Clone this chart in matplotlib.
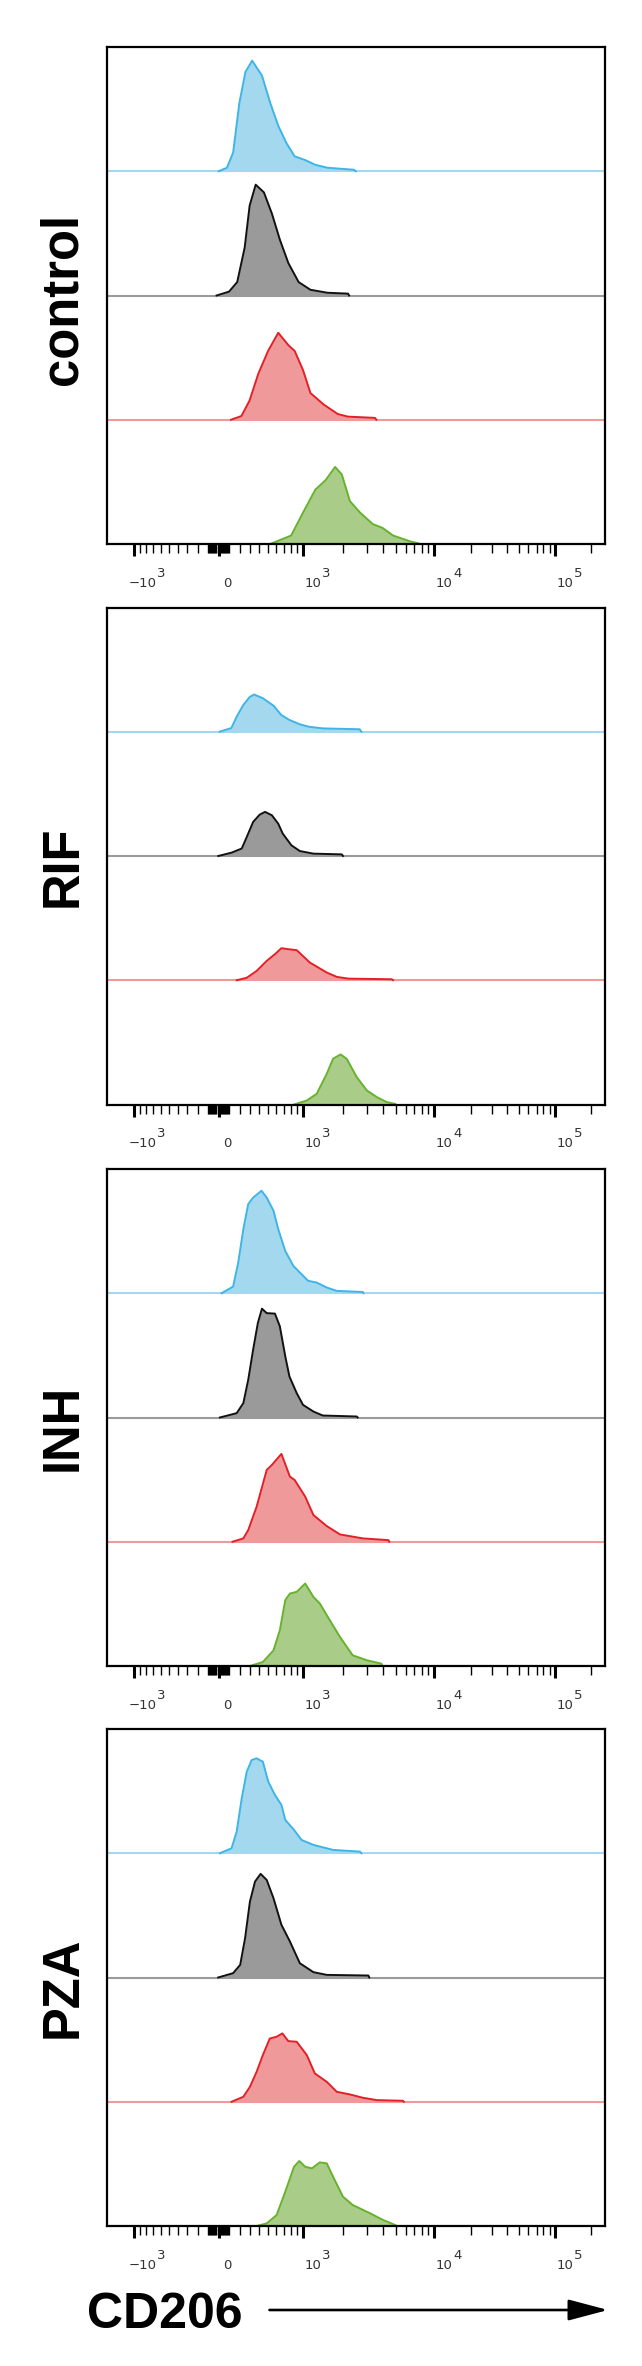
import numpy as np
import matplotlib
matplotlib.use('Agg')
import matplotlib.pyplot as plt
from matplotlib.patches import FancyArrowPatch
from matplotlib.transforms import blended_transform_factory

# CD206 fluorescence histograms, 4 lanes per panel.
# x = fluorescence intensity, h = height in % of one lane
CTRL_BLUE_X = [1, 78, 137, 197, 257, 325, 430, 525, 625, 735, 860, 1040, 1240, 1530, 2400, 2480]
CTRL_BLUE_H = [0, 2.8, 15, 55, 80, 89, 77, 55, 36.6, 22.8, 12, 9, 5.2, 2.8, 1.2, 0]
CTRL_GRAY_X = [-19, 98, 176, 249, 299, 362, 452, 545, 648, 765, 925, 1140, 1530, 2170, 2210]
CTRL_GRAY_H = [0, 3.1, 10.8, 38.5, 72.3, 89.2, 83, 66, 44.6, 26, 10.8, 4.6, 2.2, 1.5, 0]
CTRL_RED_X = [117, 217, 298, 390, 500, 625, 765, 860, 1000, 1140, 1430, 1820, 2170, 3460, 3540]
CTRL_RED_H = [0, 3, 15.4, 37, 55.4, 70, 60, 55.4, 40, 21.5, 12.3, 4.6, 2.5, 1.5, 0]
CTRL_GREEN_X = [525, 805, 1000, 1240, 1480, 1740, 1950, 2240, 2670, 3330, 3940, 4770, 6440, 7500]
CTRL_GREEN_H = [0, 6.8, 25.2, 43.7, 51.4, 62, 56, 34.5, 25.2, 16, 13, 6.8, 2.2, 0.6]

RIF_BLUE_X = [10, 120, 170, 235, 300, 345, 440, 565, 665, 780, 945, 1115, 1410, 2650, 2730]
RIF_BLUE_H = [0, 3, 12, 21.5, 28, 30, 27, 21, 13.5, 9.5, 6, 4, 2.7, 2, 0]
RIF_GRAY_X = [-3, 122, 220, 270, 335, 405, 465, 545, 625, 685, 810, 945, 1200, 1950, 1990]
RIF_GRAY_H = [0, 2.7, 6, 15.3, 27.4, 33.3, 35.5, 32.8, 26, 18, 8.6, 4, 1.9, 1.3, 0]
RIF_RED_X = [171, 270, 372, 484, 583, 667, 763, 893, 1130, 1510, 1790, 2180, 4650, 4760]
RIF_RED_H = [0, 2, 7.5, 15.6, 21, 25.8, 25, 24.2, 14.2, 6.2, 2.7, 1.3, 0.8, 0]
RIF_GREEN_X = [850, 1070, 1270, 1510, 1680, 1910, 2120, 2520, 3000, 3580, 4260, 4950]
RIF_GREEN_H = [0, 3.2, 8.6, 24.7, 36.8, 40.3, 36.8, 22, 11.3, 5.9, 1.9, 0.5]

INH_BLUE_X = [28, 137, 186, 236, 285, 335, 425, 484, 565, 625, 720, 840, 945, 1095, 1270, 1510, 1790, 2800, 2830]
INH_BLUE_H = [0, 5.4, 24.7, 51.6, 71.8, 77, 82.5, 77, 66.4, 51.6, 34, 22, 16.7, 10, 8.6, 4.6, 1.9, 1, 0]
INH_GRAY_X = [12, 171, 236, 285, 335, 385, 430, 484, 583, 646, 720, 780, 893, 1000, 1200, 1410, 2520, 2560]
INH_GRAY_H = [0, 3.5, 11.6, 30.4, 54.6, 76, 87.6, 84, 83.6, 73.4, 49.2, 33, 19.6, 10.2, 4.8, 1.6, 0.8, 0]
INH_RED_X = [131, 236, 285, 372, 484, 545, 667, 787, 860, 1040, 1200, 1510, 1890, 2800, 4380, 4450]
INH_RED_H = [0, 2.7, 9.4, 28.2, 57.8, 61.8, 70.7, 52.4, 49.7, 36.3, 21.5, 12.6, 5.9, 2.7, 1.3, 0]
INH_GREEN_X = [302, 440, 565, 646, 720, 787, 893, 1040, 1200, 1340, 1590, 1890, 2350, 3000, 3870, 3930]
INH_GREEN_H = [0, 3.2, 12.6, 28.8, 53, 58.3, 59.7, 66.4, 55.6, 50.3, 36.8, 23.4, 8.6, 4.6, 1.9, 0]

PZA_BLUE_X = [12, 122, 171, 220, 270, 320, 372, 440, 502, 583, 667, 720, 850, 975, 1200, 1680, 2660, 2730]
PZA_BLUE_H = [0, 4, 17.4, 44.2, 65.7, 75, 76.4, 73.7, 57.6, 46.9, 38.9, 26.8, 18.8, 10.7, 6.7, 2.7, 1.3, 0]
PZA_GRAY_X = [-4, 137, 205, 253, 302, 355, 415, 484, 565, 667, 787, 945, 1200, 1510, 3080, 3130]
PZA_GRAY_H = [0, 3.5, 10.2, 31.6, 61.1, 77.2, 83.4, 78.5, 63.8, 42.4, 29, 11.5, 4.3, 2.1, 1.6, 0]
PZA_RED_X = [122, 236, 302, 372, 440, 520, 604, 680, 763, 893, 1070, 1230, 1510, 1790, 2240, 2800, 3580, 5670, 5780]
PZA_RED_H = [0, 4, 12, 24.1, 37.5, 50.9, 52.3, 55, 48.8, 48.3, 37.5, 22.8, 16, 8, 5.9, 3.2, 1.3, 0.8, 0]
PZA_GREEN_X = [372, 484, 604, 720, 850, 935, 1040, 1170, 1340, 1510, 1680, 1990, 2350, 3180, 4000, 4950, 5100]
PZA_GREEN_H = [0, 2.1, 8.8, 27.6, 47.7, 52.3, 47.7, 46.4, 51.2, 50.4, 39.7, 23.6, 16.9, 10.2, 4.8, 0.8, 0]

PANEL_NAMES = ['control', 'RIF', 'INH', 'PZA']
MAJOR_TICKS = [-1000, 0, 1000, 10000, 100000]
TICK_TEXT = [('\u221210', '3'), ('0', ''), ('10', '3'), ('10', '4'), ('10', '5')]
MINOR_TICKS = ([-100 * k for k in range(2, 10)] + [-10 * k for k in range(1, 11)]
               + [10 * k for k in range(1, 11)] + [100 * k for k in range(2, 10)]
               + [1000 * k for k in range(2, 10)] + [10000 * k for k in range(2, 10)]
               + [200000])

# lane colours: fill, outline, baseline
LANES = [('#a4d8ee', '#3db5e6', '#a4d8ee'),
         ('#9a9a9a', '#111111', '#9a9a9a'),
         ('#f0999b', '#e41f26', '#f0999b'),
         ('#a9cd88', '#66b22c', '#a9cd88')]

# logicle (biexponential) axis like FlowJo
T_TOP, W_LIN, M_DEC = 262144.0, 0.5, 3.75
X_LEFT = -0.1163   # display units of the left edge


def logicle_params(T, W, M):
    w = W / M
    b = M * np.log(10)
    lo, hi = 1e-9, b
    for _ in range(200):
        mid = 0.5 * (lo + hi)
        if 2 * (np.log(mid) - np.log(b)) + w * (b + mid) > 0:
            hi = mid
        else:
            lo = mid
    d = 0.5 * (lo + hi)
    ca = np.exp(2 * w * (b + d))
    mfa = np.exp(b * w) - ca / np.exp(d * w)
    a = T / ((np.exp(b) - mfa) - ca / np.exp(d))
    return a, b, ca * a, d, -mfa * a, w


LA, LB, LC, LD, LF, LX1 = logicle_params(T_TOP, W_LIN, M_DEC)


def logicle_inv(y):
    y = np.asarray(y, dtype=float)
    yy = np.where(y >= LX1, y, 2 * LX1 - y)
    s = LA * np.exp(LB * yy) - LC * np.exp(-LD * yy) + LF
    return np.where(y >= LX1, s, -s)


GRID_Y = np.linspace(-0.6, 1.3, 40001)
GRID_X = logicle_inv(GRID_Y)


def logicle_fwd(x):
    return np.interp(np.asarray(x, dtype=float), GRID_X, GRID_Y)


panels = [
    [(CTRL_BLUE_X, CTRL_BLUE_H), (CTRL_GRAY_X, CTRL_GRAY_H), (CTRL_RED_X, CTRL_RED_H), (CTRL_GREEN_X, CTRL_GREEN_H)],
    [(RIF_BLUE_X, RIF_BLUE_H), (RIF_GRAY_X, RIF_GRAY_H), (RIF_RED_X, RIF_RED_H), (RIF_GREEN_X, RIF_GREEN_H)],
    [(INH_BLUE_X, INH_BLUE_H), (INH_GRAY_X, INH_GRAY_H), (INH_RED_X, INH_RED_H), (INH_GREEN_X, INH_GREEN_H)],
    [(PZA_BLUE_X, PZA_BLUE_H), (PZA_GRAY_X, PZA_GRAY_H), (PZA_RED_X, PZA_RED_H), (PZA_GREEN_X, PZA_GREEN_H)],
]

W_PX, H_PX = 642, 2366
fig = plt.figure(figsize=(W_PX / 100, H_PX / 100), dpi=100)

panel_tops = [47, 607.5, 1169, 1729]
panel_h = 497
ax_left, ax_w = 107.3, 497.7
LABEL_FS = 9.5

for name, top, lanes in zip(PANEL_NAMES, panel_tops, panels):
    ax = fig.add_axes([ax_left / W_PX, 1 - (top + panel_h) / H_PX, ax_w / W_PX, panel_h / H_PX])
    ax.set_xscale('function', functions=(logicle_fwd, logicle_inv))
    ax.set_xlim(float(logicle_inv(X_LEFT)), T_TOP)
    ax.set_ylim(0, 4)

    for k, ((xs, hs), (fill, edge, basec)) in enumerate(zip(lanes, LANES)):
        base = 3 - k
        xs = np.array(xs, dtype=float)
        ys = base + np.array(hs) / 100.0
        if base > 0:
            ax.axhline(base, color=basec, lw=1.5, zorder=1)
        ax.fill_between(xs, base, ys, color=fill, lw=0, zorder=2)
        ax.plot(xs, ys, color=edge, lw=1.4, zorder=3, solid_joinstyle='round')

    for s in ax.spines.values():
        s.set_linewidth(1.6)
        s.set_zorder(5)
    ax.set_yticks([])
    ax.set_xticks(MAJOR_TICKS)
    ax.set_xticks(MINOR_TICKS, minor=True)
    ax.tick_params(axis='x', which='major', length=8.6, width=2.2, labelbottom=False)
    ax.tick_params(axis='x', which='minor', length=6.2, width=1.0)

    # tick labels: base and a full-size raised exponent
    trans = blended_transform_factory(ax.transData, ax.transAxes)
    for val, (main, sup) in zip(MAJOR_TICKS, TICK_TEXT):
        dx = {'\u221210': -4.0, '0': 3.2}.get(main, 1.1)
        ax.annotate(main, xy=(val, 0), xycoords=trans, xytext=(dx, -30.7),
                    textcoords='offset points', ha='left', va='baseline',
                    fontsize=LABEL_FS, color='#333333', family='DejaVu Sans')
        if sup:
            w_main = (0.838 + 1.272 if main.startswith('\u2212') else 1.272) * LABEL_FS
            ax.annotate(sup, xy=(val, 0), xycoords=trans, xytext=(dx + w_main + 0.6, -23.5),
                        textcoords='offset points', ha='left', va='baseline',
                        fontsize=LABEL_FS, color='#333333', family='DejaVu Sans')

    pos = ax.get_position()
    yoff = 3 if name == 'control' else 10
    fig.text(63 / W_PX, pos.y0 + pos.height / 2 - yoff / H_PX, name, rotation=90,
             ha='center', va='center', fontsize=36.5, fontweight='bold',
             family='Liberation Sans')

fig.text(87 / W_PX, 1 - 2328 / H_PX, 'CD206', ha='left', va='baseline',
         fontsize=36, fontweight='bold', family='Liberation Sans')
arrow = FancyArrowPatch((269.5 / W_PX, 1 - 2310 / H_PX), (608 / W_PX, 1 - 2310 / H_PX),
                        transform=fig.transFigure, arrowstyle='-|>,head_length=24.5,head_width=6.5',
                        mutation_scale=1, lw=1.9, color='black', shrinkA=0, shrinkB=0)
fig.add_artist(arrow)

fig.savefig('out.png', dpi=100)
